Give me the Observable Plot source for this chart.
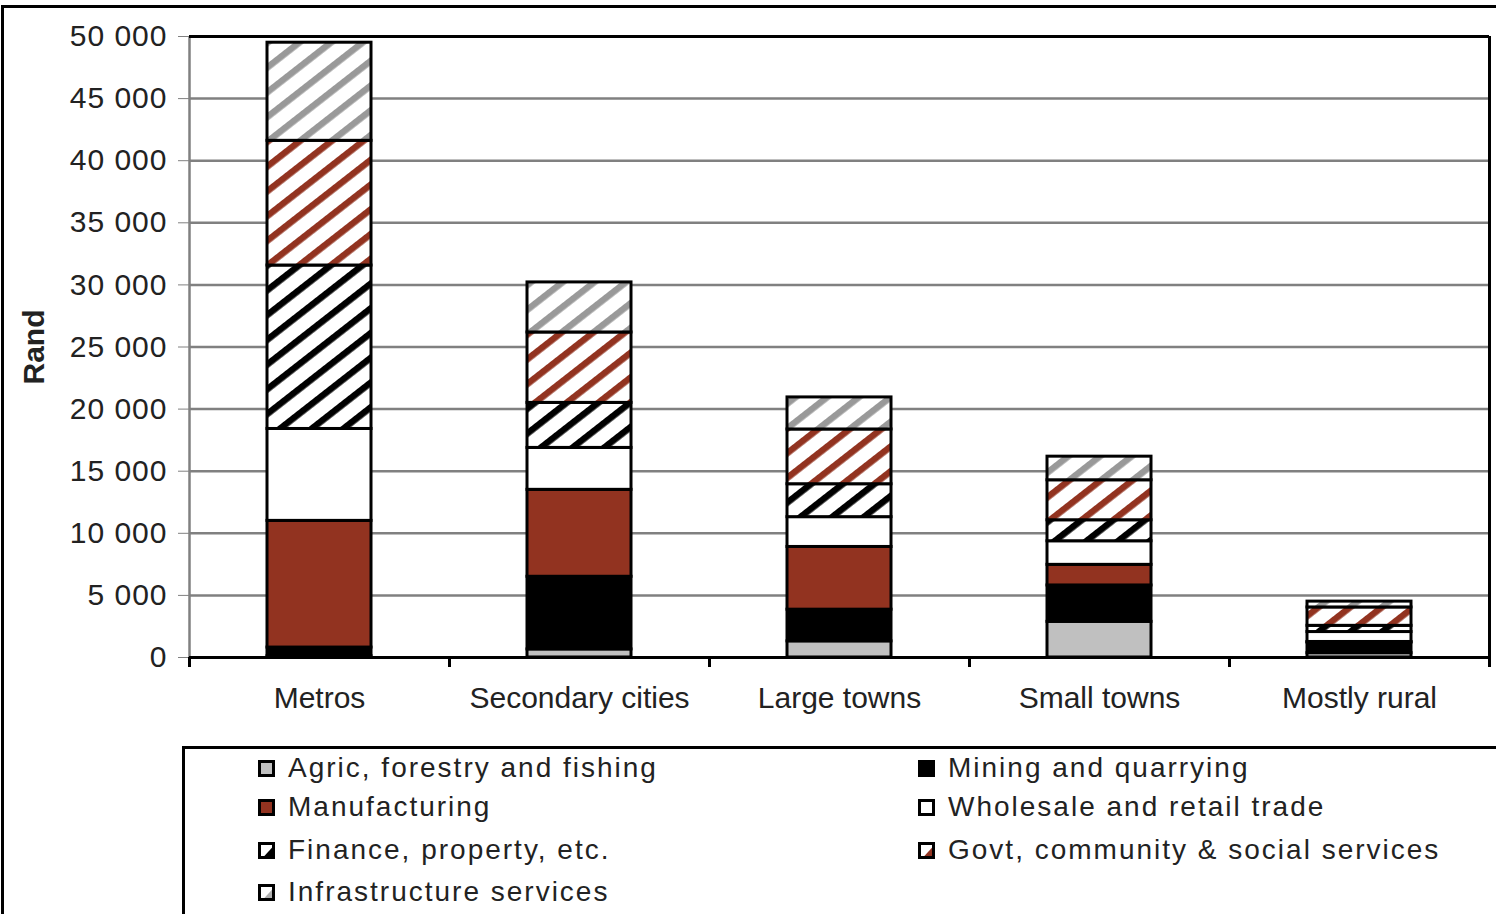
<!DOCTYPE html>
<html>
<head>
<meta charset="utf-8">
<script src="https://cdn.jsdelivr.net/npm/d3@7"></script>
<script src="https://cdn.jsdelivr.net/npm/@observablehq/plot@0.6"></script>
<style>
  html, body { margin: 0; padding: 0; background: #fff; }
  body { font-family: "Liberation Sans", Arial, sans-serif; }
  #page { position: relative; width: 1496px; height: 914px; overflow: hidden; background: #fff; }
  #outer { position: absolute; left: 1px; top: 5px; right: -20px; bottom: -20px; border-left: 3px solid #000; border-top: 3px solid #000; }
  #chart { position: absolute; left: 0; top: 0; }
  #chart g[aria-label="y-axis tick label"] text { letter-spacing: 1px; }
  #legend { position: absolute; left: 182px; top: 746px; width: 1330px; height: 220px; border: 3px solid #000; box-sizing: border-box; }
  .item { position: absolute; display: flex; align-items: center; height: 34px; font-size: 28px; letter-spacing: 2px; color: #222; white-space: nowrap; }
  .item svg { margin-right: 13px; flex: none; }
  #defs { position: absolute; width: 0; height: 0; }
</style>
</head>
<body>
<div id="page">
  <svg id="defs" width="0" height="0">
    <defs>
      <pattern id="hatch-infra" patternUnits="userSpaceOnUse" width="40" height="19.5" patternTransform="rotate(-38)">
        <rect width="40" height="19.5" fill="#fff"/>
        <rect y="0" width="40" height="6.5" fill="#999999"/>
      </pattern>
      <pattern id="hatch-govt" patternUnits="userSpaceOnUse" width="40" height="19.5" patternTransform="rotate(-38)">
        <rect width="40" height="19.5" fill="#fff"/>
        <rect y="0" width="40" height="6.5" fill="#923320"/>
      </pattern>
      <pattern id="hatch-finance" patternUnits="userSpaceOnUse" width="40" height="19.5" patternTransform="rotate(-38)">
        <rect width="40" height="19.5" fill="#fff"/>
        <rect y="0" width="40" height="6.5" fill="#000"/>
      </pattern>
    </defs>
  </svg>
  <div id="outer"></div>
  <div id="chart"></div>
  <div id="legend"></div>
</div>
<script>
// ---- data ----
const regions = ["Metros", "Secondary cities", "Large towns", "Small towns", "Mostly rural"];
const sectors = [
  "Agric, forestry and fishing",
  "Mining and quarrying",
  "Manufacturing",
  "Wholesale and retail trade",
  "Finance, property, etc.",
  "Govt, community & social services",
  "Infrastructure services"
];
const agric         = [100,   650,  1300, 2870,  350];
const mining        = [700,   5850, 2550, 2930,  850];
const manufacturing = [10200, 7000, 5050, 1660,  50];
const wholesale     = [7400,  3375, 2400, 1900,  800];
const finance       = [13160, 3625, 2650, 1690,  500];
const govt          = [10040, 5670, 4410, 3220,  1480];
const infra         = [7900,  4030, 2580, 1900,  470];
const yTicks = [0, 5000, 10000, 15000, 20000, 25000, 30000, 35000, 40000, 45000, 50000];
const legendOrder = [
  "Agric, forestry and fishing", "Mining and quarrying",
  "Manufacturing", "Wholesale and retail trade",
  "Finance, property, etc.", "Govt, community & social services",
  "Infrastructure services"
];

// ---- styles ----
const fillOf = {
  "Agric, forestry and fishing": "#c0c0c0",
  "Mining and quarrying": "#000000",
  "Manufacturing": "#923320",
  "Wholesale and retail trade": "#ffffff",
  "Finance, property, etc.": "url(#hatch-finance)",
  "Govt, community & social services": "url(#hatch-govt)",
  "Infrastructure services": "url(#hatch-infra)"
};
// legend swatch: base colour and an optional wedge colour for hatched series
const swatchOf = {
  "Agric, forestry and fishing": ["#c0c0c0", null],
  "Mining and quarrying": ["#000000", null],
  "Manufacturing": ["#923320", null],
  "Wholesale and retail trade": ["#ffffff", null],
  "Finance, property, etc.": ["#ffffff", "#000000"],
  "Govt, community & social services": ["#ffffff", "#923320"],
  "Infrastructure services": ["#ffffff", "#b0b0b0"]
};

const seriesValues = [agric, mining, manufacturing, wholesale, finance, govt, infra];
const rows = [];
regions.forEach((r, i) => {
  sectors.forEach((s, j) => rows.push({region: r, sector: s, value: seriesValues[j][i]}));
});

const fmt = d => d3.format(",")(d).replace(/,/g, " ");
const step = 1300 / regions.length;

const chart = Plot.plot({
  width: 1496,
  height: 730,
  marginLeft: 189,
  marginRight: 7,
  marginTop: 36,
  marginBottom: 73,
  style: {background: "transparent", fontFamily: "'Liberation Sans', Arial, sans-serif", color: "#222"},
  x: {domain: regions, paddingInner: 0.6, paddingOuter: 0.3, label: null},
  y: {domain: [0, 50000], label: null},
  color: {type: "identity"},
  marks: [
    Plot.ruleY(yTicks.filter(t => t > 0 && t < 50000), {stroke: "#808080", strokeWidth: 2.5}),
    Plot.axisY({ticks: yTicks, tickSize: 11, tickPadding: 11, stroke: "#808080", tickFormat: fmt, label: null, fontSize: 30, fill: "#222"}),
    Plot.axisX({tickSize: 0, tickPadding: 29, label: null, fontSize: 30, fill: "#222"}),
    Plot.ruleX([regions[0]], {dx: -step / 2, stroke: "#808080", strokeWidth: 2.5}),
    Plot.barY(rows, Plot.stackY({
      x: "region", y: "value", z: "sector", order: sectors,
      fill: d => fillOf[d.sector], stroke: "#000", strokeWidth: 3
    })),
    Plot.ruleY([0], {stroke: "#000", strokeWidth: 3}),
    Plot.ruleY([50000], {stroke: "#000", strokeWidth: 3}),
    Plot.ruleX([regions[regions.length - 1]], {dx: step / 2, stroke: "#000", strokeWidth: 3, insetBottom: -10}),
    Plot.ruleX(regions, {dx: -step / 2, stroke: "#000", strokeWidth: 3, insetTop: 621, insetBottom: -10}),
    Plot.text(["Rand"], {frameAnchor: "left", dx: -155, rotate: -90, text: d => d, textAnchor: "middle", fontWeight: "bold", fontSize: 30, fill: "#222"})
  ]
});
document.getElementById("chart").appendChild(chart);

// ---- legend ----
const legend = document.getElementById("legend");
const colX = [73, 733];
const rowY = [2, 41, 84, 126];
legendOrder.forEach((s, i) => {
  const [base, wedge] = swatchOf[s];
  const item = document.createElement("div");
  item.className = "item";
  item.style.left = colX[i % 2] + "px";
  item.style.top = rowY[Math.floor(i / 2)] + "px";
  const wedgeSvg = wedge ? `<polygon points="15.5,4 15.5,15.5 5,15.5" fill="${wedge}"/>` : "";
  item.innerHTML = `<svg width="17" height="17"><rect x="1.5" y="1.5" width="14" height="14" fill="${base}"/>${wedgeSvg}<rect x="1.5" y="1.5" width="14" height="14" fill="none" stroke="#000" stroke-width="3"/></svg><span>${s.replace(/&/g, "&amp;")}</span>`;
  legend.appendChild(item);
});
</script>
</body>
</html>
